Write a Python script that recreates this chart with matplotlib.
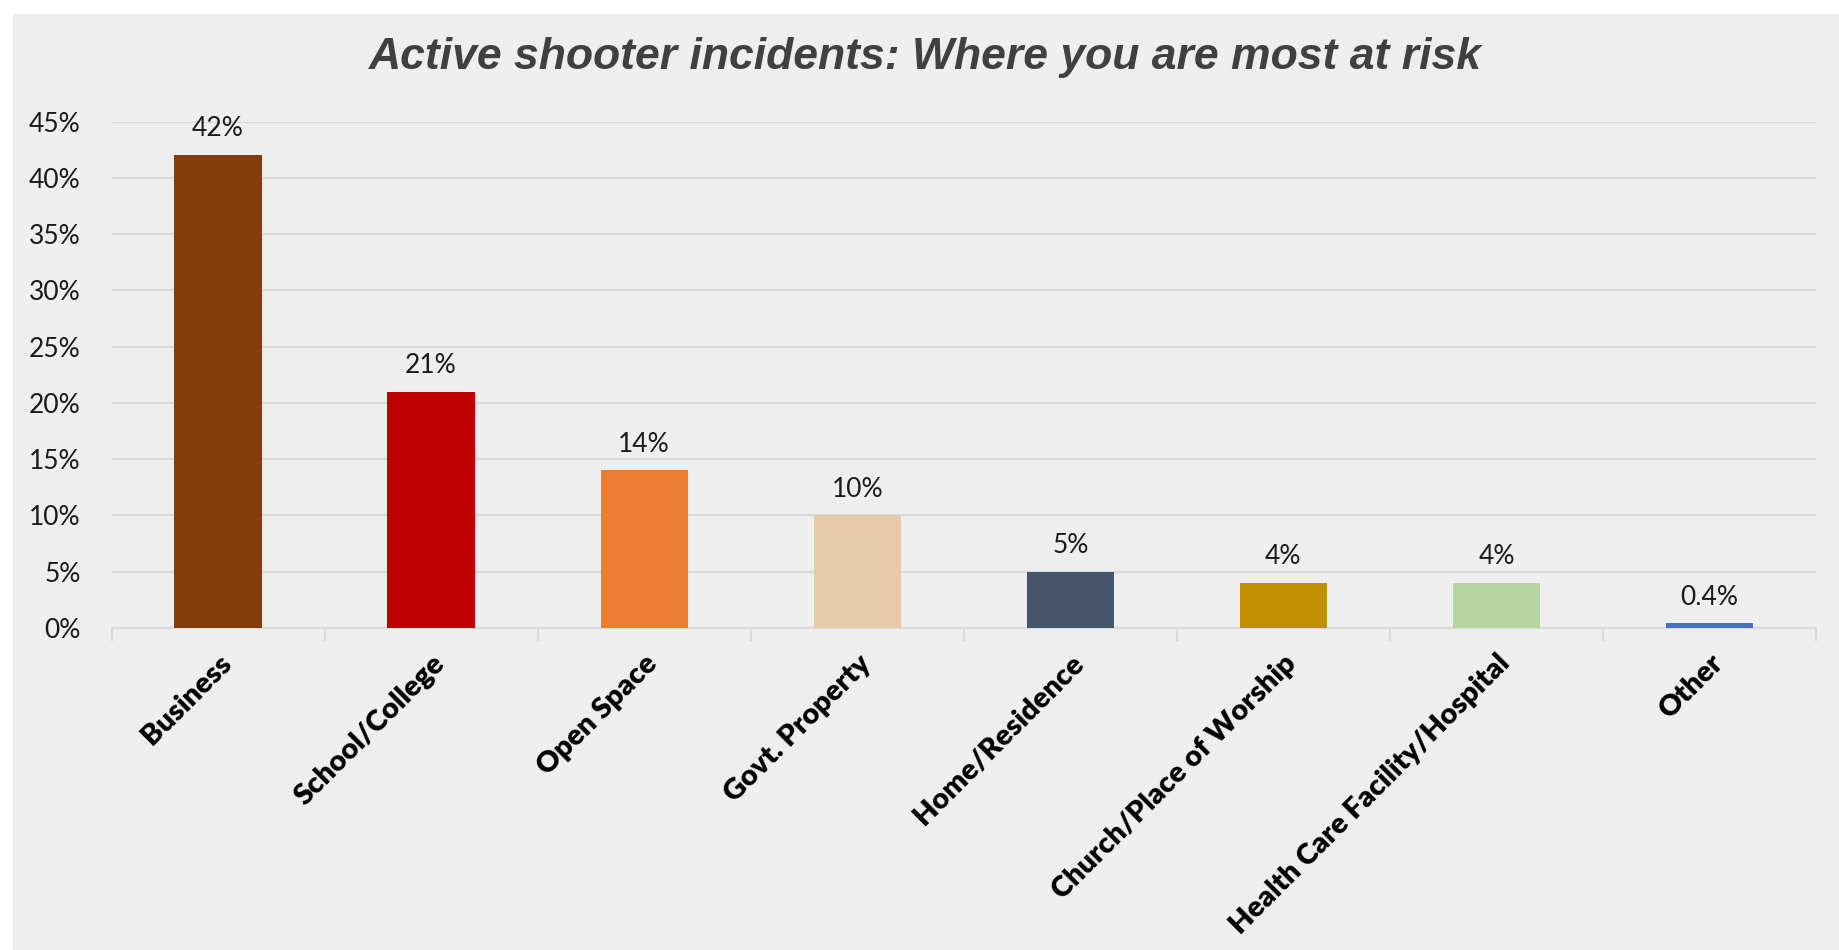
import matplotlib.pyplot as plt
import numpy as np

categories = ['Business', 'School/College', 'Open Space', 'Govt. Property',
              'Home/Residence', 'Church/Place of Worship',
              'Health Care Facility/Hospital', 'Other']
values = [42, 21, 14, 10, 5, 4, 4, 0.4]
value_labels = ['42%', '21%', '14%', '10%', '5%', '4%', '4%', '0.4%']
colors = ['#843C0C', '#C00000', '#ED7D31', '#E7CAAA', '#44546A',
          '#BF9000', '#B5D6A1', '#4472C4']
yticks = [0, 5, 10, 15, 20, 25, 30, 35, 40, 45]

bg = '#EEEEEE'
fig = plt.figure(figsize=(18.4, 9.5), dpi=100, facecolor='white')
# chart area (white rim around it like the original)
fig.patches.append(plt.Rectangle((0.007, 0.0), 0.993, 0.985, transform=fig.transFigure,
                                 facecolor=bg, edgecolor='none', zorder=-10))

ax = fig.add_axes([0.0606, 0.339, 0.9264, 0.533])
ax.set_facecolor(bg)
x = np.arange(len(categories))
ax.bar(x, values, width=0.41, color=colors, zorder=3)

ax.set_xlim(-0.5, len(categories) - 0.5)
ax.set_ylim(0, 45)
ax.set_yticks(yticks)
ax.set_yticklabels([f'{t}%' for t in yticks], fontsize=19, family=['Lato', 'DejaVu Sans'],
                   color='#1a1a1a')
ax.yaxis.grid(True, color='#D9D9D9', linewidth=1.5, zorder=0)
ax.tick_params(axis='y', length=0, pad=22)

# category ticks at boundaries
ax.set_xticks(np.arange(-0.5, len(categories), 1.0), minor=True)
ax.tick_params(axis='x', which='minor', length=9, color='#D9D9D9', width=1.5)
ax.set_xticks(x)
ax.set_xticklabels(categories, rotation=45, ha='right', rotation_mode='anchor',
                   fontsize=21, fontweight='heavy', family=['Lato', 'DejaVu Sans'])
ax.tick_params(axis='x', which='major', length=0, pad=16)

for s in ['top', 'right', 'left']:
    ax.spines[s].set_visible(False)
ax.spines['bottom'].set_color('#D9D9D9')
ax.spines['bottom'].set_linewidth(1.5)

for xi, v, lab in zip(x, values, value_labels):
    ax.annotate(lab, (xi, v), xytext=(0, 10), textcoords='offset points',
                ha='center', va='bottom', fontsize=19, family=['Lato', 'DejaVu Sans'],
                color='#1a1a1a')

fig.text(0.503, 0.94, 'Active shooter incidents: Where you are most at risk',
         ha='center', va='center', fontsize=32, fontweight='bold', fontstyle='italic',
         color='#404040', family=['Liberation Sans Narrow', 'Liberation Sans', 'DejaVu Sans'])

fig.savefig('out.png', dpi=100, facecolor='white')
